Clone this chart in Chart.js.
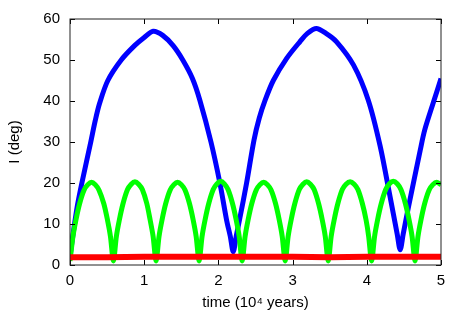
<!DOCTYPE html>
<html><head><meta charset="utf-8">
<script src="https://cdn.jsdelivr.net/npm/chart.js@4.4.0/dist/chart.umd.min.js"></script>
<style>html,body{margin:0;padding:0;background:#fff;}#wrap{width:467px;height:327px;}</style>
</head><body><div id="wrap"><canvas id="c" width="467" height="327"></canvas></div>
<script>
const blueX = [0, 0.045, 0.10, 0.16, 0.28, 0.34, 0.40, 0.51, 0.69, 0.87, 1.00, 1.12, 1.25, 1.39, 1.52, 1.65, 1.75, 1.90, 2.02, 2.11, 2.16, 2.20, 2.24, 2.29, 2.38, 2.48, 2.55, 2.63, 2.74, 2.92, 3.10, 3.20, 3.32, 3.45, 3.59, 3.82, 4.02, 4.18, 4.31, 4.41, 4.45, 4.49, 4.56, 4.72, 4.78, 4.90, 5.00];
const blueY = [2, 8, 14.5, 20, 30, 35.2, 39.5, 45, 50, 53.5, 55.5, 57, 56, 53.5, 50, 45.5, 40.2, 30, 20, 11, 7, 3.2, 7, 11.5, 20, 30.5, 35.8, 40.2, 45, 50.4, 54.5, 56.5, 57.7, 56.5, 54.5, 48.8, 40.2, 29, 17, 7.5, 3.7, 7.5, 14, 28, 32.9, 39.8, 45.5];

const greenX = [0, 0.04, 0.08, 0.13, 0.19, 0.24, 0.29, 0.34, 0.39, 0.455, 0.505, 0.545, 0.585,
 0.625, 0.665, 0.715, 0.775, 0.825, 0.875, 0.925, 0.975, 1.035, 1.08, 1.12, 1.16,
 1.20, 1.24, 1.29, 1.35, 1.40, 1.45, 1.50, 1.55, 1.61, 1.66, 1.70, 1.74,
 1.78, 1.82, 1.87, 1.93, 1.98, 2.03, 2.08, 2.13, 2.19, 2.24, 2.28, 2.32,
 2.36, 2.40, 2.45, 2.51, 2.56, 2.61, 2.66, 2.71, 2.77, 2.82, 2.86, 2.90,
 2.94, 2.98, 3.03, 3.09, 3.14, 3.19, 3.24, 3.29, 3.35, 3.40, 3.44, 3.48,
 3.52, 3.56, 3.61, 3.67, 3.72, 3.775, 3.83, 3.88, 3.94, 3.99, 4.025, 4.065,
 4.105, 4.145, 4.195, 4.255, 4.305, 4.357, 4.41, 4.46, 4.52, 4.57, 4.61, 4.65,
 4.69, 4.73, 4.78, 4.84, 4.89, 4.94, 5.00];
const greenY = [1, 7, 11, 15, 18.3, 19.6, 20.2, 19.6, 18.3, 15, 11, 7, 1,
 7, 11, 15, 18.4, 19.7, 20.3, 19.7, 18.4, 15, 11, 7, 1,
 7, 11, 15, 18.3, 19.6, 20.2, 19.6, 18.3, 15, 11, 7, 1,
 7, 11, 15, 18.4, 19.8, 20.4, 19.8, 18.4, 15, 11, 7, 1,
 7, 11, 15, 18.3, 19.6, 20.2, 19.6, 18.3, 15, 11, 7, 1,
 7, 11, 15, 18.4, 19.7, 20.3, 19.7, 18.4, 15, 11, 7, 1,
 7, 11, 15, 18.4, 19.7, 20.3, 19.7, 18.4, 15, 11, 7, 1,
 7, 11, 15, 18.4, 19.8, 20.4, 19.8, 18.4, 15, 11, 7, 1,
 7, 11, 15, 18.3, 19.6, 20.2, 19.6];

const redX = [0, 0.5, 1, 1.5, 2, 2.5, 3, 3.5, 4, 4.5, 5];
const redY = [1.9, 1.9, 2.0, 2.0, 2.0, 2.0, 2.0, 1.9, 2.0, 2.0, 2.0];

const xTicks = [0, 1, 2, 3, 4, 5];
const yTicks = [0, 10, 20, 30, 40, 50, 60];

const zip = (xs, ys) => xs.map((x, i) => ({x: x, y: ys[i]}));

const FONT = 'Liberation Sans, Arial, Helvetica, sans-serif';

const frame = {
  id: 'frame',
  afterDatasetsDraw(chart) {
    const ctx = chart.ctx, a = chart.chartArea, xs = chart.scales.x, ys = chart.scales.y;
    ctx.save();
    ctx.strokeStyle = '#000';
    ctx.lineWidth = 1;
    ctx.beginPath();
    const L = 5;
    xTicks.forEach(v => {
      const px = Math.round(xs.getPixelForValue(v)) + 0.5;
      ctx.moveTo(px, a.bottom); ctx.lineTo(px, a.bottom - L);
      ctx.moveTo(px, a.top); ctx.lineTo(px, a.top + L);
    });
    yTicks.forEach(v => {
      const py = Math.round(ys.getPixelForValue(v)) + 0.5;
      ctx.moveTo(a.left, py); ctx.lineTo(a.left + L, py);
      ctx.moveTo(a.right, py); ctx.lineTo(a.right - L, py);
    });
    ctx.stroke();
    ctx.strokeStyle = '#222';
    ctx.strokeRect(a.left, a.top, a.right - a.left, a.bottom - a.top);
    ctx.restore();
  }
};

new Chart(document.getElementById('c'), {
  type: 'line',
  data: {
    datasets: [
      {data: zip(redX, redY), borderColor: '#ff0000', borderWidth: 6, pointRadius: 0, tension: 0},
      {data: zip(greenX, greenY), borderColor: '#00ff00', borderWidth: 5, pointRadius: 0, tension: 0.3},
      {data: zip(blueX, blueY), borderColor: '#0000ff', borderWidth: 5, pointRadius: 0, tension: 0.3}
    ]
  },
  options: {
    responsive: false,
    animation: false,
    devicePixelRatio: 1,
    layout: {padding: {top: 19, right: 26, left: 0, bottom: 0}},
    plugins: {legend: {display: false}, tooltip: {enabled: false}},
    scales: {
      x: {
        type: 'linear', min: 0, max: 5,
        afterBuildTicks: s => { s.ticks = xTicks.map(v => ({value: v})); },
        afterFit: s => { s.height = 62; },
        grid: {display: false, drawTicks: false},
        border: {display: false},
        ticks: {padding: 7, color: '#000', font: {family: FONT, size: 15}},
        title: {display: true, text: 'time (10\u2074 years)', color: '#000', padding: 15, font: {family: FONT, size: 15}}
      },
      y: {
        type: 'linear', min: 0, max: 60,
        afterBuildTicks: s => { s.ticks = yTicks.map(v => ({value: v})); },
        afterFit: s => { s.width = 70; },
        grid: {display: false, drawTicks: false},
        border: {display: false},
        ticks: {padding: 10, color: '#000', font: {family: FONT, size: 15}},
        title: {display: true, text: 'I (deg)', color: '#000', padding: 6, font: {family: FONT, size: 15}}
      }
    }
  },
  plugins: [frame]
});
</script>
</body></html>
